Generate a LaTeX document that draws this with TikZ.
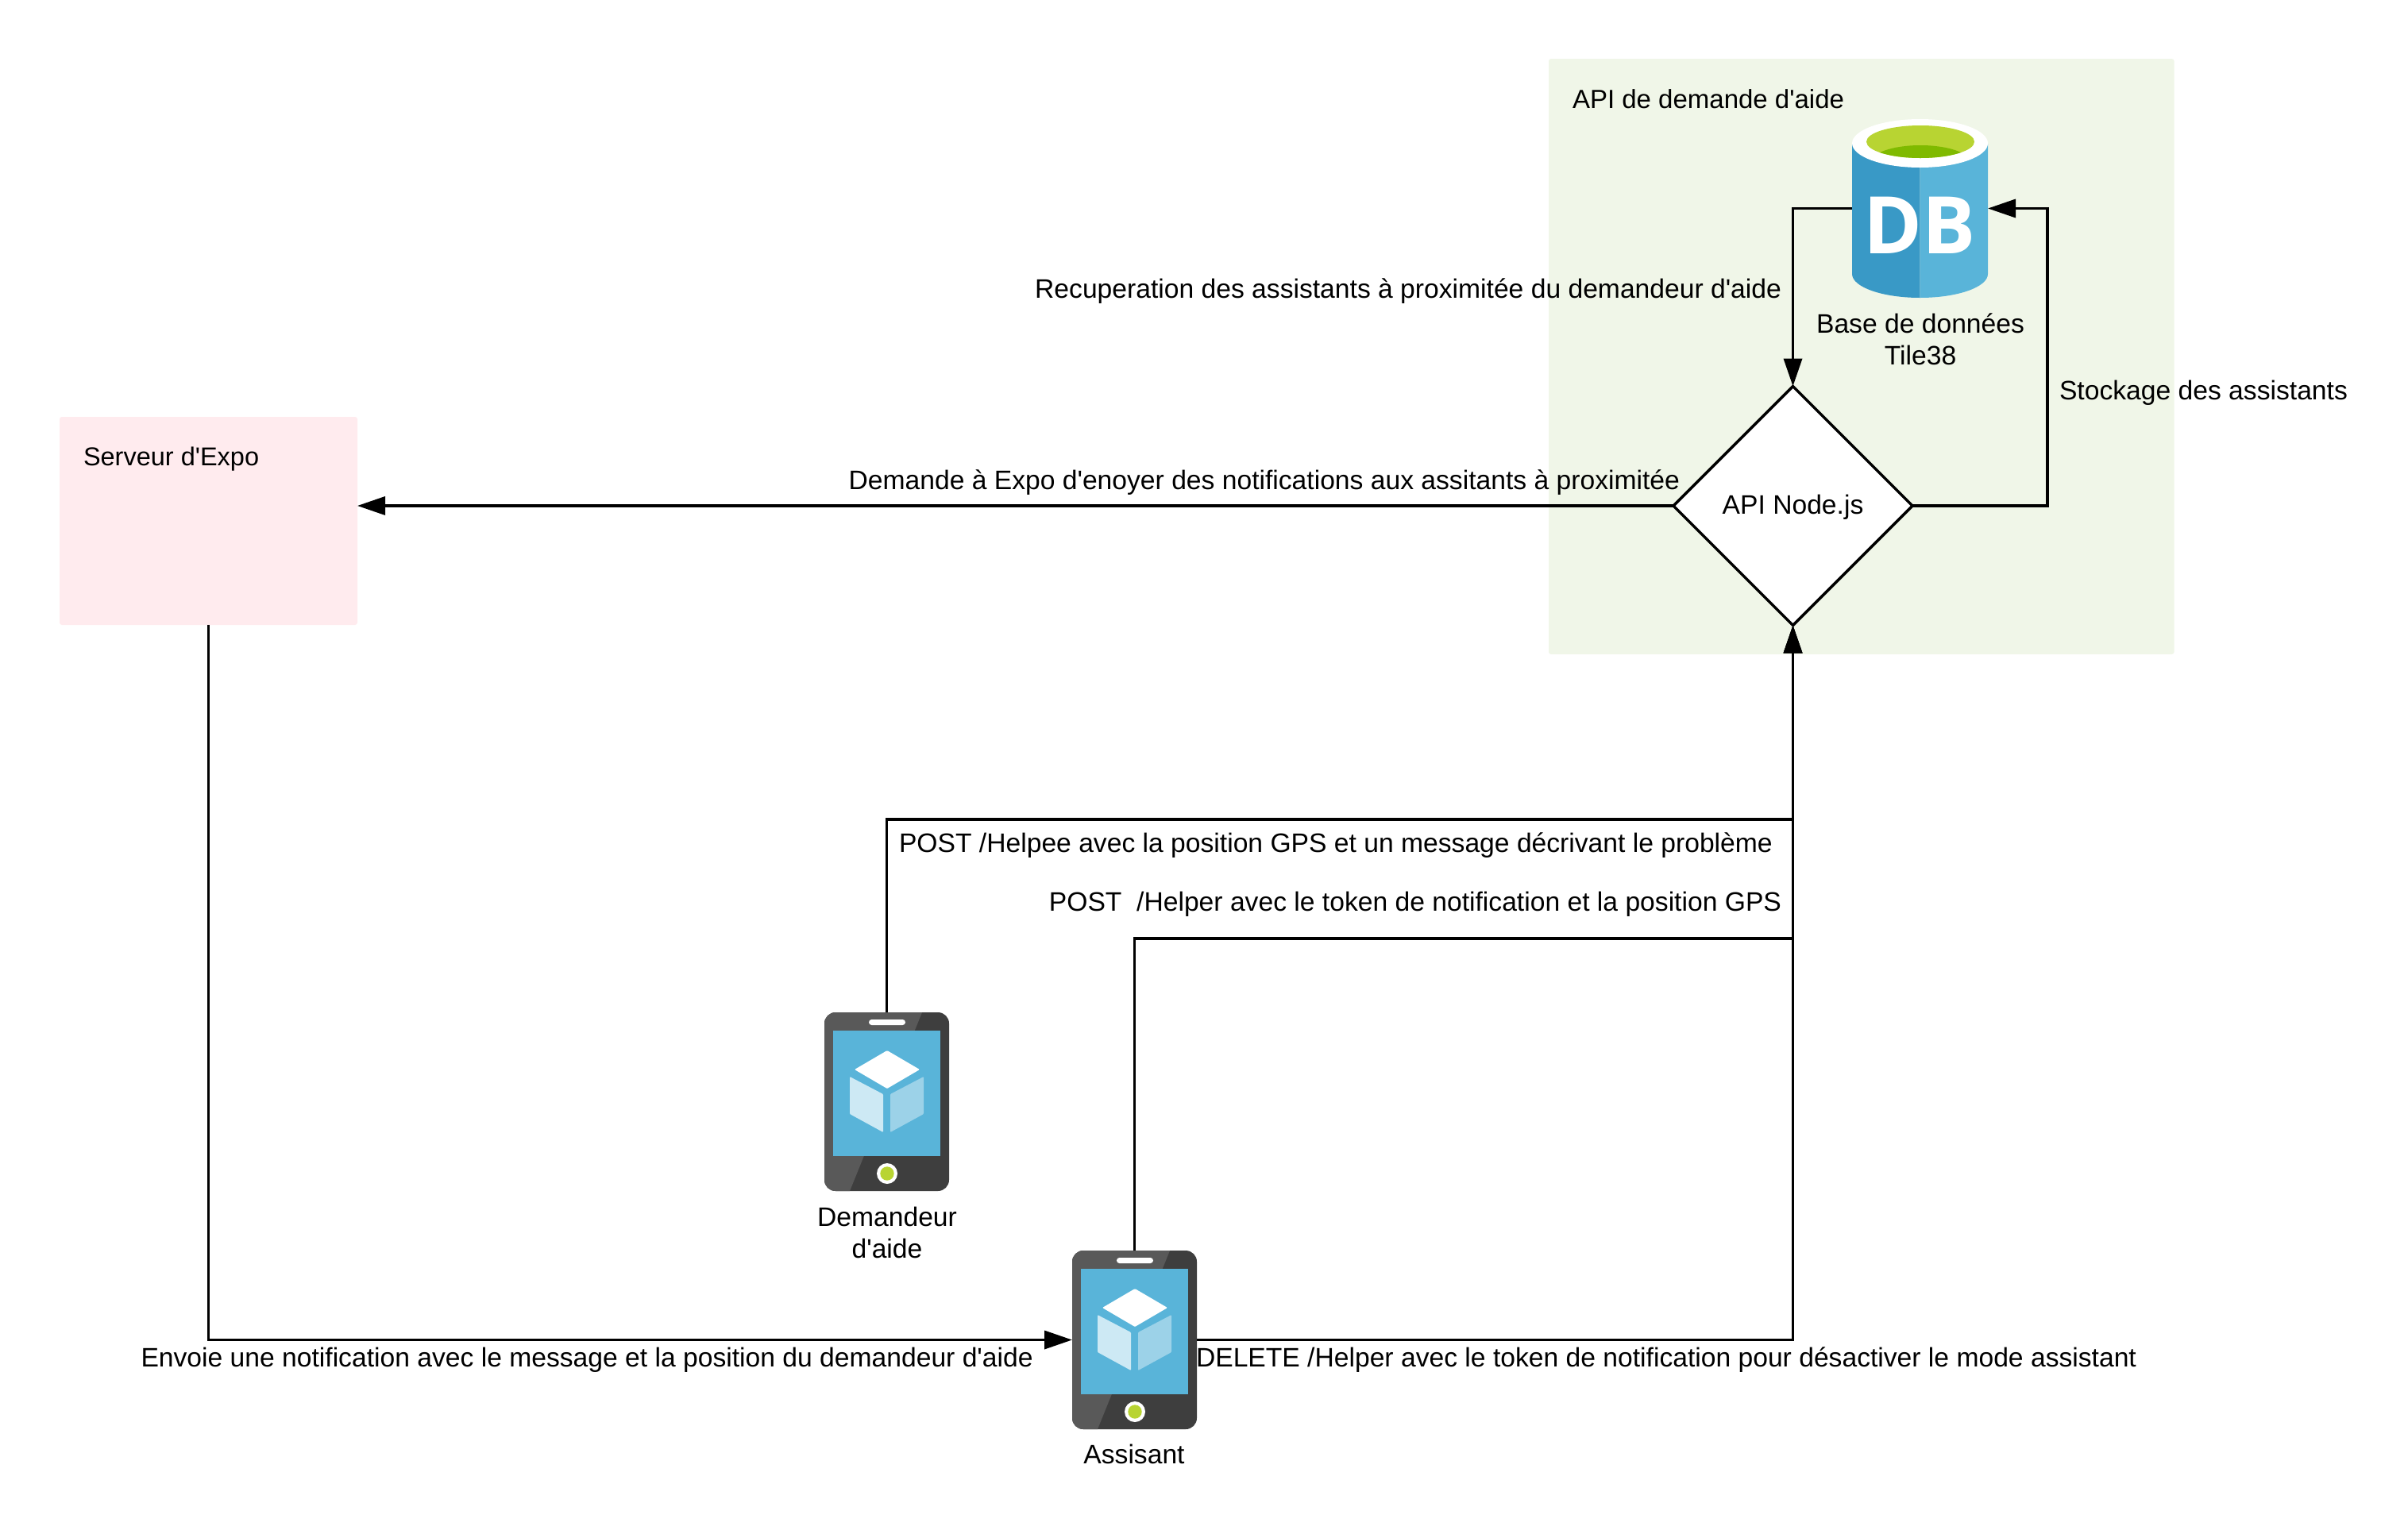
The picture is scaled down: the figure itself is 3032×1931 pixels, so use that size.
\documentclass[tikz,border=0pt]{standalone}
\usepackage{fontspec}
\setmainfont[Ligatures=TeXOff]{Liberation Sans}
\newfontfamily\dbfont{Open Sans}
\usetikzlibrary{arrows.meta,shapes.geometric}
\definecolor{greenbg}{HTML}{F0F6E8}
\definecolor{pinkbg}{HTML}{FFEBEE}
\definecolor{azure}{HTML}{59B4D9}
\definecolor{azuredk}{HTML}{3999C6}
\definecolor{limeA}{HTML}{B8D432}
\definecolor{limeB}{HTML}{7FBA00}
\definecolor{phoneDk}{HTML}{3E3E3E}
\definecolor{phoneLt}{HTML}{595959}
\definecolor{cubeL}{HTML}{CDE9F4}
\definecolor{cubeR}{HTML}{9CD2E8}
\tikzset{
  lbl/.style={font=\fontsize{33.65}{38}\selectfont,inner sep=0pt,outer sep=0pt,text=black},
  lblsmall/.style={font=\fontsize{32.5}{38}\selectfont,inner sep=0pt,outer sep=0pt,text=black},
  panel/.style={rounded corners=3pt,inner sep=0pt,outer sep=0pt},
  conn/.style={line width=3.5pt,draw=black,-{Triangle[length=35pt,width=23pt]}},
  iconbox/.style={inner sep=0pt,outer sep=0pt,minimum width=157pt,minimum height=225pt},
}
\newcommand{\drawphone}[2]{%
  \begin{scope}[shift={(#1,#2)}]
    \fill[phoneDk,rounded corners=14pt] (1038,1275) rectangle (1195,1500);
    \begin{scope}
      \clip[rounded corners=14pt] (1038,1275) rectangle (1195,1500);
      \fill[phoneLt] (1038,1275) -- (1161,1275) -- (1070,1500) -- (1038,1500) -- cycle;
    \end{scope}
    \fill[azure] (1049,1298) rectangle (1184,1456);
    \fill[white,rounded corners=3.5pt] (1094,1284) rectangle (1140,1291);
    \fill[white] (1117,1478) circle[radius=13];
    \fill[limeA] (1117,1478) circle[radius=8.7];
    \fill[white,rounded corners=1pt] (1117,1323) -- (1158,1347) -- (1117,1371) -- (1076,1347) -- cycle;
    \fill[cubeL,rounded corners=1pt] (1070,1356) -- (1112,1378) -- (1112,1426) -- (1070,1403) -- cycle;
    \fill[cubeR,rounded corners=1pt] (1121,1378) -- (1163,1356) -- (1163,1403) -- (1121,1426) -- cycle;
  \end{scope}}
\begin{document}
\begin{tikzpicture}[x=1pt,y=-1pt]
\useasboundingbox (0,0) rectangle (3032,1931);
\fill[white] (0,0) rectangle (3032,1931);
% panels
\node[panel,fill=greenbg,minimum width=787.5pt,minimum height=750pt] (apibox) at (2343.75,449) {};
\node[panel,fill=pinkbg,minimum width=375pt,minimum height=262pt] (pink) at (262.5,656) {};
% database icon
\begin{scope}
  \begin{scope}
    \clip (2332,100) rectangle (2417.5,400);
    \fill[azuredk] (2332,181) -- (2332,345) arc[start angle=180,end angle=0,x radius=85.5,y radius=30] -- (2503,181) -- cycle;
  \end{scope}
  \begin{scope}
    \clip (2417.5,100) rectangle (2510,400);
    \fill[azure] (2332,181) -- (2332,345) arc[start angle=180,end angle=0,x radius=85.5,y radius=30] -- (2503,181) -- cycle;
  \end{scope}
  \fill[white] (2417.5,180.5) ellipse[x radius=85.5,y radius=30.5];
  \fill[limeA] (2418,178.5) ellipse[x radius=68,y radius=20.5];
  \begin{scope}
    \clip (2418,178.5) ellipse[x radius=68,y radius=20.5];
    \fill[limeB] (2418,204) ellipse[x radius=62,y radius=21];
  \end{scope}
\end{scope}
\node[iconbox,minimum width=171pt] (db) at (2417.5,262.5) {};
\node[inner sep=0pt,anchor=base,font=\fontsize{100}{100}\selectfont\dbfont\bfseries,text=white] (dbtext) at (2417.5,319) {DB};
% phones
\drawphone{0}{0}
\drawphone{312}{300}
\node[iconbox] (helpee) at (1116.5,1387.5) {};
\node[iconbox] (helper) at (1428.5,1687.5) {};
% diamond
\node[diamond,draw=black,line width=3.5pt,fill=white,inner sep=0pt,outer sep=0pt,minimum width=301pt,minimum height=301pt] (api) at (2257.5,637) {};
% junctions
\coordinate (busA) at (2257.5,1032);
\coordinate (busB) at (2257.5,1182);
\coordinate (store) at (2578,262.5);
% connectors
\draw[conn] (db.west) -| (api.north);
\draw[conn] (api.east) -| (store) -- (db.east);
\draw[conn] (api.west) -- (api.west -| pink.east);
\draw[conn] (pink.south) |- (helper.west);
\draw[conn] (helpee.north) |- (busA) -- (api.south);
\draw[conn] (helper.north) |- (busB) -- (api.south);
\draw[conn] (helper.east) -| (api.south);
% labels
\node[lbl,font=\fontsize{33}{38}\selectfont,anchor=base west] (tapi) at (1980,136.5) {API de demande d'aide};
\node[lbl,anchor=base east] (trec) at (2243,375) {Recuperation des assistants à proximitée du demandeur d'aide};
\node[lbl,anchor=base] (tbase) at (2418,419) {Base de données};
\node[lbl,anchor=base] (ttile) at (2418,459) {Tile38};
\node[lbl,anchor=base west] (tstock) at (2593,503) {Stockage des assistants};
\node[lbl,anchor=base] (tnode) at (2257.5,647) {API Node.js};
\node[lbl,anchor=base east] (tdem) at (2115,616) {Demande à Expo d'enoyer des notifications aux assitants à proximitée};
\node[lblsmall,anchor=base west] (texpo) at (105,586) {Serveur d'Expo};
\node[lbl,anchor=base west] (tpa) at (1132,1073) {POST /Helpee avec la position GPS et un message décrivant le problème};
\node[lbl,anchor=base east] (tpb) at (2243,1147) {POST\ \ /Helper avec le token de notification et la position GPS};
\node[lbl,anchor=base] (tda) at (1117,1544) {Demandeur};
\node[lbl,anchor=base] (tdb) at (1117,1584) {d'aide};
\node[lbl,anchor=base] (tass) at (1428,1843) {Assisant};
\node[lbl,anchor=base west] (tenv) at (177.5,1721.5) {Envoie une notification avec le message et la position du demandeur d'aide};
\node[lbl,anchor=base west] (tdel) at (1506,1721.5) {DELETE /Helper avec le token de notification pour désactiver le mode assistant};
\end{tikzpicture}
\end{document}
